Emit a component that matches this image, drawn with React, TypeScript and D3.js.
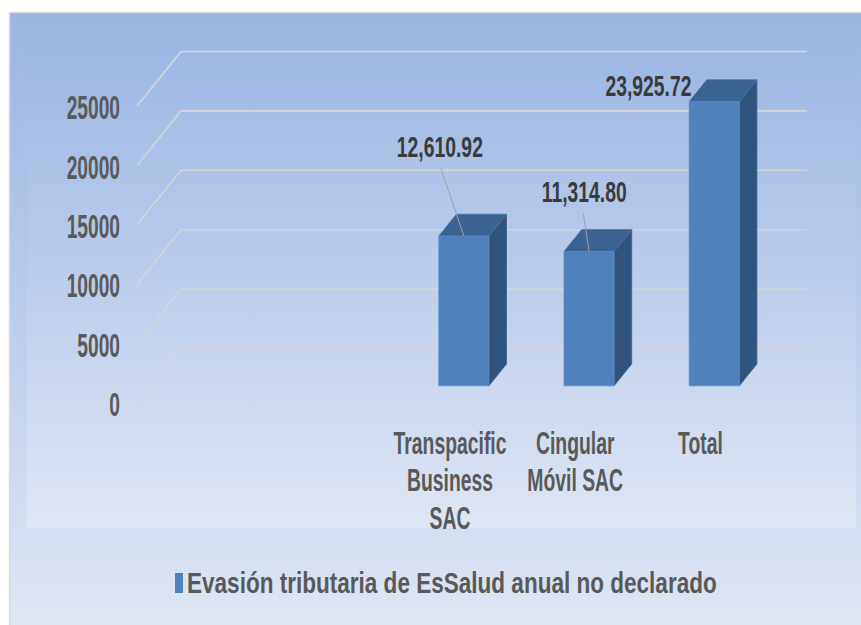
import React from "react";
import * as d3 from "d3";

// ---- data ----
const categories = ["", "", "Transpacific Business SAC", "Cingular Móvil SAC", "Total"];
const categoryLines = [[], [], ["Transpacific", "Business", "SAC"], ["Cingular", "Móvil SAC"], ["Total"]];
const values: (number | null)[] = [null, null, 12610.92, 11314.8, 23925.72];
const yTicks = [0, 5000, 10000, 15000, 20000, 25000];
const seriesName = "Evasión tributaria de EsSalud anual no declarado";

// label placement offsets (dx, dy of label baseline; leader end) relative to bar top-front midpoint
const labelOffsets = [null, null, { dx: -24, dy: -79.5, lx: -22.8, ly: -67.5 }, { dx: -4.8, dy: -49.2, lx: -5.8, ly: -38 }, { dx: -65.8, dy: -6, lx: null, ly: null }];

const W = 861;
const H = 625;
const FONT = "'Liberation Sans', Arial, sans-serif";
const SX = 0.82;
const DX = 44;
const DY = 54.5;
const Z0 = 0.315;
const Z1 = 0.715;

export default function App() {
  const x = d3.scaleBand<number>().domain(d3.range(categories.length)).range([137, 763]).paddingInner(0.6).paddingOuter(0.3);
  const y = d3.scaleLinear().domain([0, 25000]).range([403, 106]);
  const bw = x.bandwidth();
  const proj = (px: number, v: number, z: number): [number, number] => [px + z * DX, y(v) - z * DY];
  const pts = (arr: [number, number][]) => arr.map((p) => p.join(",")).join(" ");
  const fmt = d3.format(",.2f");
  const x0 = 137;
  const x1 = 763;

  return (
    <svg width={W} height={H} style={{ position: "absolute", left: 0, top: 0, display: "block" }} fontFamily={FONT}>
      <defs>
        <linearGradient id="bgOuter" x1="0" y1="0" x2="0" y2="1">
          <stop offset="0" stopColor="#9ab4e2" />
          <stop offset="1" stopColor="#e0e7f4" />
        </linearGradient>
        <linearGradient id="bgPlot" x1="0" y1="0" x2="0" y2="1">
          <stop offset="0" stopColor="#9cb6e3" />
          <stop offset="1" stopColor="#dfe6f4" />
        </linearGradient>
      </defs>
      <rect x={0} y={0} width={W} height={H} fill="#ffffff" />
      <rect x={9.5} y={12.5} width={W + 10} height={H} fill="url(#bgOuter)" stroke="#d9d9d9" strokeWidth={1.5} />
      <rect x={27} y={43} width={829} height={485} fill="url(#bgPlot)" />

      {/* gridlines */}
      <g fill="none" stroke="#d6d6d6" strokeWidth={1.6}>
        {yTicks.map((t) => (
          <polyline key={t} points={pts([proj(x0, t, 0), proj(x0, t, 1), proj(x1, t, 1)])} />
        ))}
      </g>

      {/* y axis labels */}
      <g fill="#595959" fontWeight="bold" fontSize={23.4} textAnchor="end">
        {yTicks.map((t) => (
          <text key={t} transform={`translate(120,${y(t) + 13.2}) scale(${SX},1.4)`}>{t}</text>
        ))}
      </g>

      {/* bars */}
      {values.map((v, i) => {
        if (v == null) return null;
        const bx0 = x(i)!;
        const bx1 = bx0 + bw;
        const front = [proj(bx0, 0, Z0), proj(bx0, v, Z0), proj(bx1, v, Z0), proj(bx1, 0, Z0)];
        const top = [proj(bx0, v, Z0), proj(bx1, v, Z0), proj(bx1, v, Z1), proj(bx0, v, Z1)];
        const side = [proj(bx1, 0, Z0), proj(bx1, v, Z0), proj(bx1, v, Z1), proj(bx1, 0, Z1)];
        return (
          <g key={i} strokeWidth={0.8} strokeLinejoin="round">
            <polygon points={pts(side)} fill="#31547e" stroke="#3a6190" />
            <polygon points={pts(top)} fill="#3b6392" stroke="#4672a6" />
            <polygon points={pts(front)} fill="#4f81bd" stroke="#5a8ac4" />
          </g>
        );
      })}

      {/* data labels */}
      {values.map((v, i) => {
        if (v == null) return null;
        const o = labelOffsets[i]!;
        const [mx, my] = proj(x(i)! + bw / 2, v, Z0);
        return (
          <g key={i}>
            {o.lx != null && (
              <line x1={mx} y1={my} x2={mx + o.lx} y2={my + (o.ly as number)} stroke="#a0a0a0" strokeWidth={1} />
            )}
            <text transform={`translate(${mx + o.dx},${my + o.dy}) scale(${SX},1.25)`} textAnchor="middle" fontWeight="bold" fontSize={23.6} fill="#3a3a3a">
              {fmt(v)}
            </text>
          </g>
        );
      })}

      {/* category labels */}
      <g fill="#595959" fontWeight="bold" fontSize={23.6} textAnchor="middle">
        {categoryLines.map((lines, i) =>
          lines.map((ln, k) => (
            <text key={`${i}-${k}`} transform={`translate(${x(i)! + bw / 2},${453.5 + k * 37.5}) scale(${SX},1.36)`}>{ln}</text>
          ))
        )}
      </g>

      {/* legend */}
      <rect x={175} y={573} width={8} height={20} fill="#4f81bd" />
      <text transform={`translate(187,592.7) scale(0.835,1.09)`} fontWeight="bold" fontSize={27} fill="#595959">{seriesName}</text>
    </svg>
  );
}
